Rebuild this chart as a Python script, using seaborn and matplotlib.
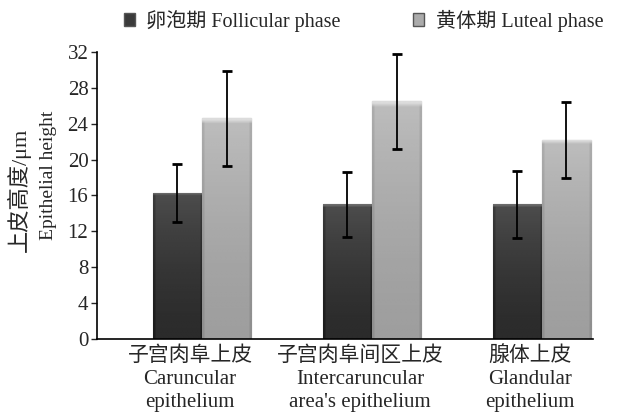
import pandas as pd
import numpy as np
import matplotlib.pyplot as plt
import matplotlib.transforms as mtransforms
from matplotlib.patches import Patch
import seaborn as sns

sites = ['子宫肉阜上皮\nCaruncular\nepithelium',
         '子宫肉阜间区上皮\nIntercaruncular\narea\'s epithelium',
         '腺体上皮\nGlandular\nepithelium']
phases = ['卵泡期 Follicular phase', '黄体期 Luteal phase']
follicular = [16.3, 15.0, 15.0]
follicular_sd = [3.2, 3.6, 3.7]
luteal = [24.6, 26.5, 22.2]
luteal_sd = [5.3, 5.3, 4.2]

df = pd.DataFrame({
    'site': sites * 2,
    'phase': [phases[0]] * 3 + [phases[1]] * 3,
    'height': follicular + luteal,
    'sd': follicular_sd + luteal_sd,
})

sns.set_style('ticks')
plt.rcParams['font.family'] = ['Liberation Serif', 'Noto Sans CJK SC']

fig = plt.figure(figsize=(6.24, 4.12), dpi=100)
ax = fig.add_axes([0.155, 0.177, 0.795, 0.697])

palette = {phases[0]: '#3a3a3a', phases[1]: '#ababab'}
sns.barplot(data=df, x='site', y='height', hue='phase', palette=palette,
            width=0.58, gap=0, errorbar=None, edgecolor='#4a4a4a',
            linewidth=0.8, saturation=1, legend=False, ax=ax)

# shaded fill (top-to-bottom gradient, darker sides) like the original
shades = [(0.30, 0.17), (0.74, 0.62)]
for p_idx in range(2):
    top, bot = shades[p_idx]
    for b in ax.patches[p_idx * 3:(p_idx + 1) * 3]:
        x0, y0 = b.get_x(), b.get_y()
        w, h = b.get_width(), b.get_height()
        yy = np.linspace(0, 1, 60)[:, None]
        xx = np.linspace(-1, 1, 40)[None, :]
        grad = bot + (top - bot) * yy ** 1.5
        grad = grad - 0.06 * (np.abs(xx) > 0.9)
        grad = np.where(yy > 0.985, top + 0.12, grad)
        im = ax.imshow(grad, cmap='gray', vmin=0, vmax=1, origin='lower',
                       extent=[x0, x0 + w, y0, y0 + h], aspect='auto',
                       zorder=b.get_zorder() + 0.1, interpolation='bilinear')
        im.set_clip_path(b)

# error bars at bar centres
for p_idx, phase in enumerate(phases):
    sub = df[df['phase'] == phase]
    bars = ax.patches[p_idx * 3:(p_idx + 1) * 3]
    xs = [b.get_x() + b.get_width() / 2 for b in bars]
    ax.errorbar(xs, sub['height'], yerr=sub['sd'], fmt='none',
                ecolor='black', elinewidth=1.3, capsize=3.5, capthick=2,
                zorder=5)

ax.set_ylim(0, 32)
ax.set_yticks(np.arange(0, 33, 4))
ax.set_xlim(-0.62, 2.3)
ax.set_xlabel('')
ax.set_ylabel('')
ax.tick_params(axis='y', labelsize=15, length=4, width=1, direction='out', pad=2)
ax.tick_params(axis='x', labelsize=15, length=0, pad=5)
sns.despine(ax=ax)
for s in ['left', 'bottom']:
    ax.spines[s].set_linewidth(1.2)
    ax.spines[s].set_color('black')

offset = mtransforms.ScaledTranslation(-0.12, 0, fig.dpi_scale_trans)
for lab in ax.get_xticklabels():
    lab.set_transform(lab.get_transform() + offset)
    lab.set_linespacing(1.3)

fig.text(0.03, 0.539, '上皮高度/μm', rotation=90, ha='center', va='center',
         fontsize=16)
fig.text(0.077, 0.575, 'Epithelial height', rotation=90, ha='center',
         va='center', fontsize=14)

handles = [Patch(facecolor=palette[p], edgecolor='#555555') for p in phases]
fig.legend(handles, phases, loc='center left', bbox_to_anchor=(0.17, 0.95),
           ncol=2, frameon=False, fontsize=14.5, handlelength=0.55,
           handleheight=0.55, handletextpad=0.55, columnspacing=3.6)

fig.savefig('out.png', dpi=100)
